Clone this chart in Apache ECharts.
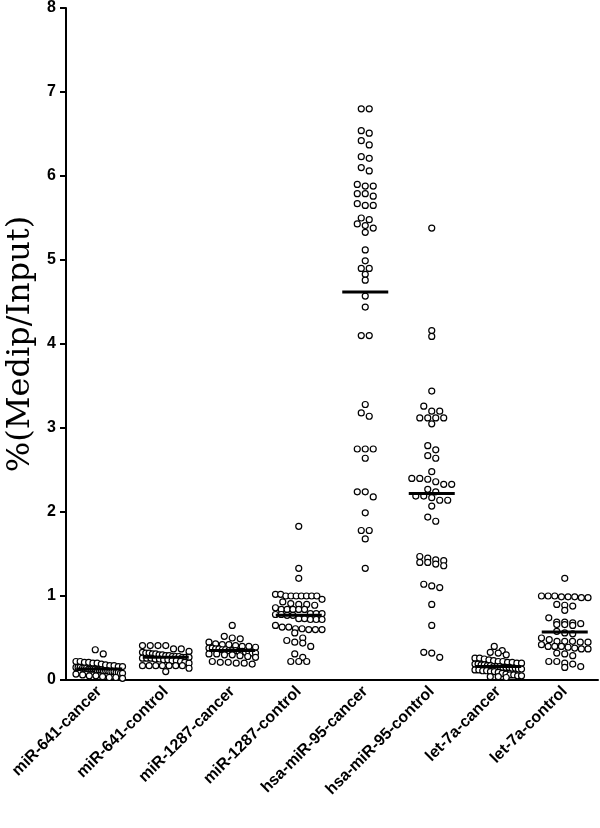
<!DOCTYPE html>
<html>
<head>
<meta charset="utf-8">
<script src="https://cdn.jsdelivr.net/npm/echarts@6/dist/echarts.min.js"></script>
<style>
  html, body { margin: 0; padding: 0; background: #fff; }
  #chart { width: 600px; height: 828px; }
</style>
</head>
<body>
<div id="chart"></div>
<script>
// groups on the x axis
const categories = [
  "miR-641-cancer", "miR-641-control", "miR-1287-cancer", "miR-1287-control",
  "hsa-miR-95-cancer", "hsa-miR-95-control", "let-7a-cancer", "let-7a-control"
];

// values, one array per group
const mir641Cancer = [0.36, 0.31, 0.22, 0.21, 0.20, 0.20, 0.21, 0.22, 0.19, 0.18, 0.17, 0.17, 0.16, 0.16, 0.15, 0.15, 0.15, 0.14, 0.14, 0.14, 0.13, 0.13, 0.13, 0.13, 0.12, 0.12, 0.12, 0.11, 0.11, 0.11, 0.10, 0.10, 0.10, 0.09, 0.09, 0.08, 0.08, 0.07, 0.06, 0.05, 0.05, 0.04, 0.03, 0.03, 0.02];
const mir641Control = [0.41, 0.41, 0.41, 0.41, 0.37, 0.37, 0.34, 0.33, 0.32, 0.32, 0.31, 0.31, 0.30, 0.30, 0.29, 0.29, 0.28, 0.28, 0.28, 0.27, 0.27, 0.27, 0.26, 0.26, 0.26, 0.25, 0.25, 0.24, 0.24, 0.23, 0.23, 0.22, 0.21, 0.20, 0.17, 0.17, 0.17, 0.17, 0.17, 0.17, 0.17, 0.14, 0.10];
const mir1287Cancer = [0.65, 0.52, 0.50, 0.49, 0.45, 0.43, 0.42, 0.42, 0.41, 0.40, 0.40, 0.39, 0.38, 0.38, 0.37, 0.37, 0.36, 0.36, 0.35, 0.35, 0.35, 0.34, 0.34, 0.33, 0.33, 0.32, 0.32, 0.31, 0.31, 0.30, 0.30, 0.29, 0.28, 0.27, 0.22, 0.21, 0.21, 0.20, 0.20, 0.19];
const mir1287Control = [1.83, 1.33, 1.21, 1.02, 1.02, 1.00, 1.00, 1.00, 1.00, 1.00, 1.00, 1.00, 0.96, 0.93, 0.91, 0.90, 0.90, 0.89, 0.86, 0.84, 0.84, 0.84, 0.84, 0.84, 0.79, 0.79, 0.79, 0.78, 0.78, 0.77, 0.77, 0.73, 0.73, 0.72, 0.72, 0.72, 0.65, 0.63, 0.61, 0.60, 0.60, 0.60, 0.61, 0.63, 0.56, 0.50, 0.47, 0.45, 0.44, 0.40, 0.31, 0.27, 0.22, 0.22, 0.22];
const mir95Cancer = [6.80, 6.80, 6.54, 6.51, 6.42, 6.37, 6.23, 6.21, 6.10, 6.06, 5.90, 5.88, 5.88, 5.79, 5.79, 5.76, 5.67, 5.65, 5.65, 5.50, 5.48, 5.43, 5.41, 5.38, 5.33, 5.12, 4.99, 4.90, 4.90, 4.83, 4.76, 4.57, 4.44, 4.10, 4.10, 3.28, 3.18, 3.14, 2.75, 2.75, 2.75, 2.64, 2.24, 2.18, 2.24, 1.99, 1.78, 1.78, 1.68, 1.33];
const mir95Control = [5.38, 4.16, 4.09, 3.44, 3.26, 3.20, 3.20, 3.12, 3.12, 3.12, 3.12, 3.05, 2.79, 2.74, 2.67, 2.64, 2.48, 2.40, 2.36, 2.39, 2.40, 2.33, 2.33, 2.27, 2.24, 2.19, 2.19, 2.17, 2.14, 2.14, 2.07, 1.89, 1.94, 1.47, 1.45, 1.43, 1.42, 1.40, 1.40, 1.38, 1.36, 1.12, 1.10, 1.14, 0.90, 0.65, 0.33, 0.27, 0.32];
const let7aCancer = [0.40, 0.35, 0.33, 0.32, 0.30, 0.26, 0.26, 0.25, 0.24, 0.23, 0.22, 0.22, 0.21, 0.21, 0.20, 0.20, 0.19, 0.19, 0.18, 0.18, 0.17, 0.17, 0.16, 0.16, 0.16, 0.15, 0.15, 0.15, 0.14, 0.14, 0.13, 0.13, 0.12, 0.12, 0.11, 0.11, 0.10, 0.10, 0.09, 0.08, 0.07, 0.06, 0.06, 0.05, 0.05, 0.04, 0.04, 0.03];
const let7aControl = [1.21, 1.00, 1.00, 0.99, 0.99, 0.99, 0.98, 0.98, 1.00, 0.90, 0.88, 0.83, 0.89, 0.74, 0.69, 0.67, 0.66, 0.65, 0.66, 0.68, 0.69, 0.58, 0.56, 0.55, 0.48, 0.46, 0.45, 0.45, 0.46, 0.46, 0.50, 0.42, 0.40, 0.39, 0.37, 0.38, 0.37, 0.40, 0.40, 0.32, 0.29, 0.31, 0.22, 0.20, 0.16, 0.15, 0.19, 0.22];

// median bar per group
const medians = [0.13, 0.27, 0.35, 0.77, 4.62, 2.22, 0.16, 0.57];

const yTicks = [0, 1, 2, 3, 4, 5, 6, 7, 8];

const groups = [mir641Cancer, mir641Control, mir1287Cancer, mir1287Control,
  mir95Cancer, mir95Control, let7aCancer, let7aControl];

// dot-plot layout: values close in y share a row and are spread sideways
function spread(values, gi) {
  const sorted = values.slice().sort((a, b) => b - a);
  const out = [];
  const rowH = 0.07, step = 0.12, maxW = 0.7;
  let i = 0;
  while (i < sorted.length) {
    const row = [sorted[i]];
    let j = i + 1;
    while (j < sorted.length && sorted[i] - sorted[j] < rowH) { row.push(sorted[j]); j++; }
    const n = row.length;
    let s = step;
    if ((n - 1) * s > maxW) s = maxW / (n - 1);
    row.forEach((v, k) => out.push([gi + (k - (n - 1) / 2) * s, v]));
    i = j;
  }
  return out;
}

let points = [];
groups.forEach((g, gi) => { points = points.concat(spread(g, gi)); });

const chart = echarts.init(document.getElementById("chart"));
chart.setOption({
  backgroundColor: "#fff",
  animation: false,
  grid: { left: 66, right: 2, top: 8, bottom: 148, containLabel: false, outerBoundsMode: "none" },
  xAxis: [
    {
      type: "category",
      data: categories,
      boundaryGap: true,
      axisLine: { lineStyle: { color: "#000", width: 2 } },
      axisTick: { alignWithLabel: true, length: 5, lineStyle: { color: "#000", width: 2 } },
      axisLabel: {
        interval: 0,
        rotate: 45,
        margin: 9,
        color: "#000",
        fontFamily: "Liberation Sans",
        fontWeight: "bold",
        fontSize: 16
      }
    },
    { type: "value", min: -0.5, max: 7.5, show: false }
  ],
  yAxis: {
    type: "value",
    min: 0,
    max: 8,
    interval: 1,
    name: "%(Medip/Input)",
    nameLocation: "middle",
    nameGap: 27,
    nameTextStyle: { fontFamily: "DejaVu Serif", fontSize: 32, color: "#000" },
    axisLine: { show: true, onZero: false, lineStyle: { color: "#000", width: 2 } },
    axisTick: { show: true, length: 6, lineStyle: { color: "#000", width: 2 } },
    axisLabel: {
      color: "#000",
      fontFamily: "Liberation Sans",
      fontWeight: "bold",
      fontSize: 16,
      margin: 10,
      formatter: v => (yTicks.indexOf(v) >= 0 ? String(v) : "")
    },
    splitLine: { show: false }
  },
  series: [
    {
      type: "scatter",
      xAxisIndex: 1,
      data: points,
      symbol: "circle",
      symbolSize: 6,
      itemStyle: { color: "#fff", borderColor: "#000", borderWidth: 1.2, opacity: 1 },
      z: 2
    },
    {
      type: "scatter",
      xAxisIndex: 0,
      data: medians.map((m, i) => [i, m]),
      symbol: "rect",
      symbolSize: [46, 3],
      itemStyle: { color: "#000", opacity: 1 },
      z: 3
    }
  ]
});
</script>
</body>
</html>
